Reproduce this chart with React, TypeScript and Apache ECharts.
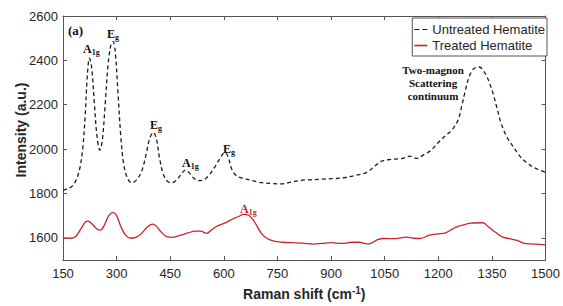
import React, { useEffect, useRef } from "react";
import * as echarts from "echarts";

const xTicks = [150, 300, 450, 600, 750, 900, 1050, 1200, 1350, 1500];
const yTicks = [1600, 1800, 2000, 2200, 2400, 2600];

const untreatedX = [150,165,180,195,205,212,218,224,230,238,245,253,260,268,276,284,290,296,304,312,320,330,342,355,370,383,393,403,412,420,430,442,455,468,480,492,502,515,530,545,560,575,590,603,612,622,635,650,675,700,730,760,790,820,850,880,910,940,970,1000,1020,1040,1060,1080,1100,1120,1140,1160,1180,1200,1220,1240,1255,1265,1275,1285,1295,1305,1315,1325,1335,1345,1355,1365,1375,1390,1410,1430,1450,1470,1500];
const untreatedY = [1815,1822,1840,1900,2000,2150,2330,2410,2370,2200,2060,1995,2040,2200,2380,2470,2485,2440,2250,2050,1930,1870,1848,1860,1900,1980,2050,2075,2040,1960,1890,1855,1848,1862,1885,1905,1895,1870,1858,1862,1885,1920,1960,1985,1965,1910,1880,1870,1860,1850,1845,1843,1852,1860,1862,1865,1867,1872,1882,1895,1920,1945,1952,1955,1958,1968,1958,1975,1995,2030,2060,2090,2130,2190,2260,2320,2355,2368,2370,2355,2330,2290,2240,2180,2120,2060,2010,1965,1935,1915,1895];

const treatedX = [150,170,185,200,212,220,230,245,255,265,278,290,300,312,325,340,355,370,385,400,410,425,440,455,475,500,520,535,552,565,580,595,610,625,640,655,668,680,692,705,720,740,765,790,820,850,875,900,930,960,980,1000,1010,1030,1050,1080,1110,1130,1150,1175,1200,1220,1240,1255,1275,1290,1325,1340,1360,1380,1400,1420,1445,1470,1500];
const treatedY = [1600,1598,1605,1640,1670,1675,1665,1640,1635,1655,1700,1715,1700,1650,1612,1598,1603,1620,1648,1662,1655,1625,1605,1602,1610,1622,1630,1630,1620,1635,1652,1662,1672,1685,1695,1706,1703,1685,1655,1620,1598,1585,1580,1578,1576,1572,1575,1578,1575,1580,1580,1573,1574,1592,1597,1596,1603,1598,1597,1612,1618,1622,1640,1652,1660,1666,1668,1650,1625,1603,1596,1588,1574,1572,1568];

const seriesNames = ["Untreated Hematite", "Treated Hematite"];

const RED = "#c8242b";
const INK = "#262626";
const SERIF = "'Liberation Serif', 'Times New Roman', serif";
const SANS = "'Liberation Sans', Arial, sans-serif";

function peakLabel(x: number, y: number, main: string, sub: string, color: string) {
  return {
    type: "text",
    left: x,
    top: y,
    style: {
      text: `{b|${main}}{s|${sub}}`,
      fill: color,
      rich: {
        b: { fontFamily: SERIF, fontWeight: "bold", fontSize: 12, fill: color },
        s: { fontFamily: SERIF, fontWeight: "bold", fontSize: 8, fill: color, padding: [6, 0, 0, 0] },
      },
    },
  };
}

export default function App() {
  const ref = useRef<HTMLDivElement>(null);
  useEffect(() => {
    if (!ref.current) return;
    const chart = echarts.init(ref.current, null, { renderer: "svg" });
    const tick = { show: true, inside: true, length: 4, lineStyle: { color: "#555" } };
    const line = { show: true, lineStyle: { color: "#555", width: 1 } };
    const fmt = (v: number) => String(v);
    chart.setOption({
      animation: false,
      backgroundColor: "#fff",
      grid: { left: 63, right: 15, top: 16, bottom: 43, containLabel: false },
      legend: {
        data: [
          { name: seriesNames[0], icon: "path://M0,0H5V1H0Z M8,0H13V1H8Z" },
          { name: seriesNames[1], icon: "rect" },
        ],
        orient: "vertical",
        right: 16,
        top: 18,
        itemWidth: 13,
        itemHeight: 1.6,
        itemGap: 3,
        padding: [5, 2, 4, 2],
        borderColor: "#555",
        borderWidth: 1,
        backgroundColor: "#fff",
        textStyle: { fontFamily: SANS, fontSize: 13, color: INK, lineHeight: 13 },
      },
      xAxis: [
        {
          type: "value",
          min: 150,
          max: 1500,
          interval: 150,
          axisLine: line,
          axisTick: { ...tick, customValues: xTicks },
          splitLine: { show: false },
          axisLabel: {
            fontFamily: SANS,
            fontSize: 13,
            color: INK,
            margin: 7,
            customValues: xTicks,
            formatter: fmt,
          },
          name: "Raman shift (cm{sup|-1})",
          nameLocation: "middle",
          nameGap: 25,
          nameTextStyle: {
            fontFamily: SANS,
            fontSize: 14,
            fontWeight: "bold",
            color: INK,
            rich: {
              sup: { fontFamily: SANS, fontSize: 10, fontWeight: "bold", color: INK, padding: [0, 0, 8, 0] },
            },
          },
        },
        {
          type: "value",
          position: "top",
          min: 150,
          max: 1500,
          interval: 150,
          axisLine: line,
          axisTick: tick,
          splitLine: { show: false },
          axisLabel: { show: false },
        },
      ],
      yAxis: [
        {
          type: "value",
          min: 1500,
          max: 2600,
          axisLine: line,
          splitLine: { show: false },
          axisLabel: {
            fontFamily: SANS,
            fontSize: 13,
            color: INK,
            margin: 5,
            customValues: yTicks,
            formatter: fmt,
          },
          axisTick: { ...tick, customValues: yTicks },
        },
        {
          type: "value",
          position: "right",
          min: 1500,
          max: 2600,
          axisLine: line,
          splitLine: { show: false },
          axisLabel: { show: false, customValues: yTicks },
          axisTick: { ...tick, customValues: yTicks },
        },
      ],
      series: [
        {
          name: seriesNames[0],
          type: "line",
          data: untreatedX.map((x, i) => [x, untreatedY[i]]),
          symbol: "none",
          smooth: 0.35,
          lineStyle: { color: "#1a1a1a", width: 1.3, type: [4, 3] },
          itemStyle: { color: "#1a1a1a" },
        },
        {
          name: seriesNames[1],
          type: "line",
          data: treatedX.map((x, i) => [x, treatedY[i]]),
          symbol: "none",
          smooth: 0.35,
          lineStyle: { color: RED, width: 1.3 },
          itemStyle: { color: RED },
        },
      ],
      graphic: [
        {
          type: "text",
          left: 68,
          top: 24,
          style: { text: "(a)", fontFamily: SERIF, fontWeight: "bold", fontSize: 13, fill: "#111" },
        },
        peakLabel(83, 43, "A", "1g", "#111"),
        peakLabel(107, 28, "E", "g", "#111"),
        peakLabel(150, 119, "E", "g", "#111"),
        peakLabel(182, 157, "A", "1g", "#111"),
        peakLabel(223, 143, "E", "g", "#111"),
        peakLabel(240, 203, "A", "1g", RED),
        {
          type: "text",
          x: 433,
          y: 63,
          style: {
            text: "Two-magnon\nScattering\ncontinuum",
            fontFamily: SERIF,
            fontWeight: "bold",
            fontSize: 11,
            lineHeight: 13,
            align: "center",
            fill: "#111",
          },
        },
        {
          type: "text",
          x: 21,
          y: 130,
          rotation: Math.PI / 2,
          style: {
            text: "Intensity (a.u.)",
            fontFamily: SANS,
            fontWeight: "bold",
            fontSize: 14,
            fill: INK,
            align: "center",
            verticalAlign: "middle",
          },
        },
      ],
    });
    return () => chart.dispose();
  }, []);
  return <div ref={ref} style={{ width: 563, height: 306, position: "absolute", left: 0, top: 0 }} />;
}
